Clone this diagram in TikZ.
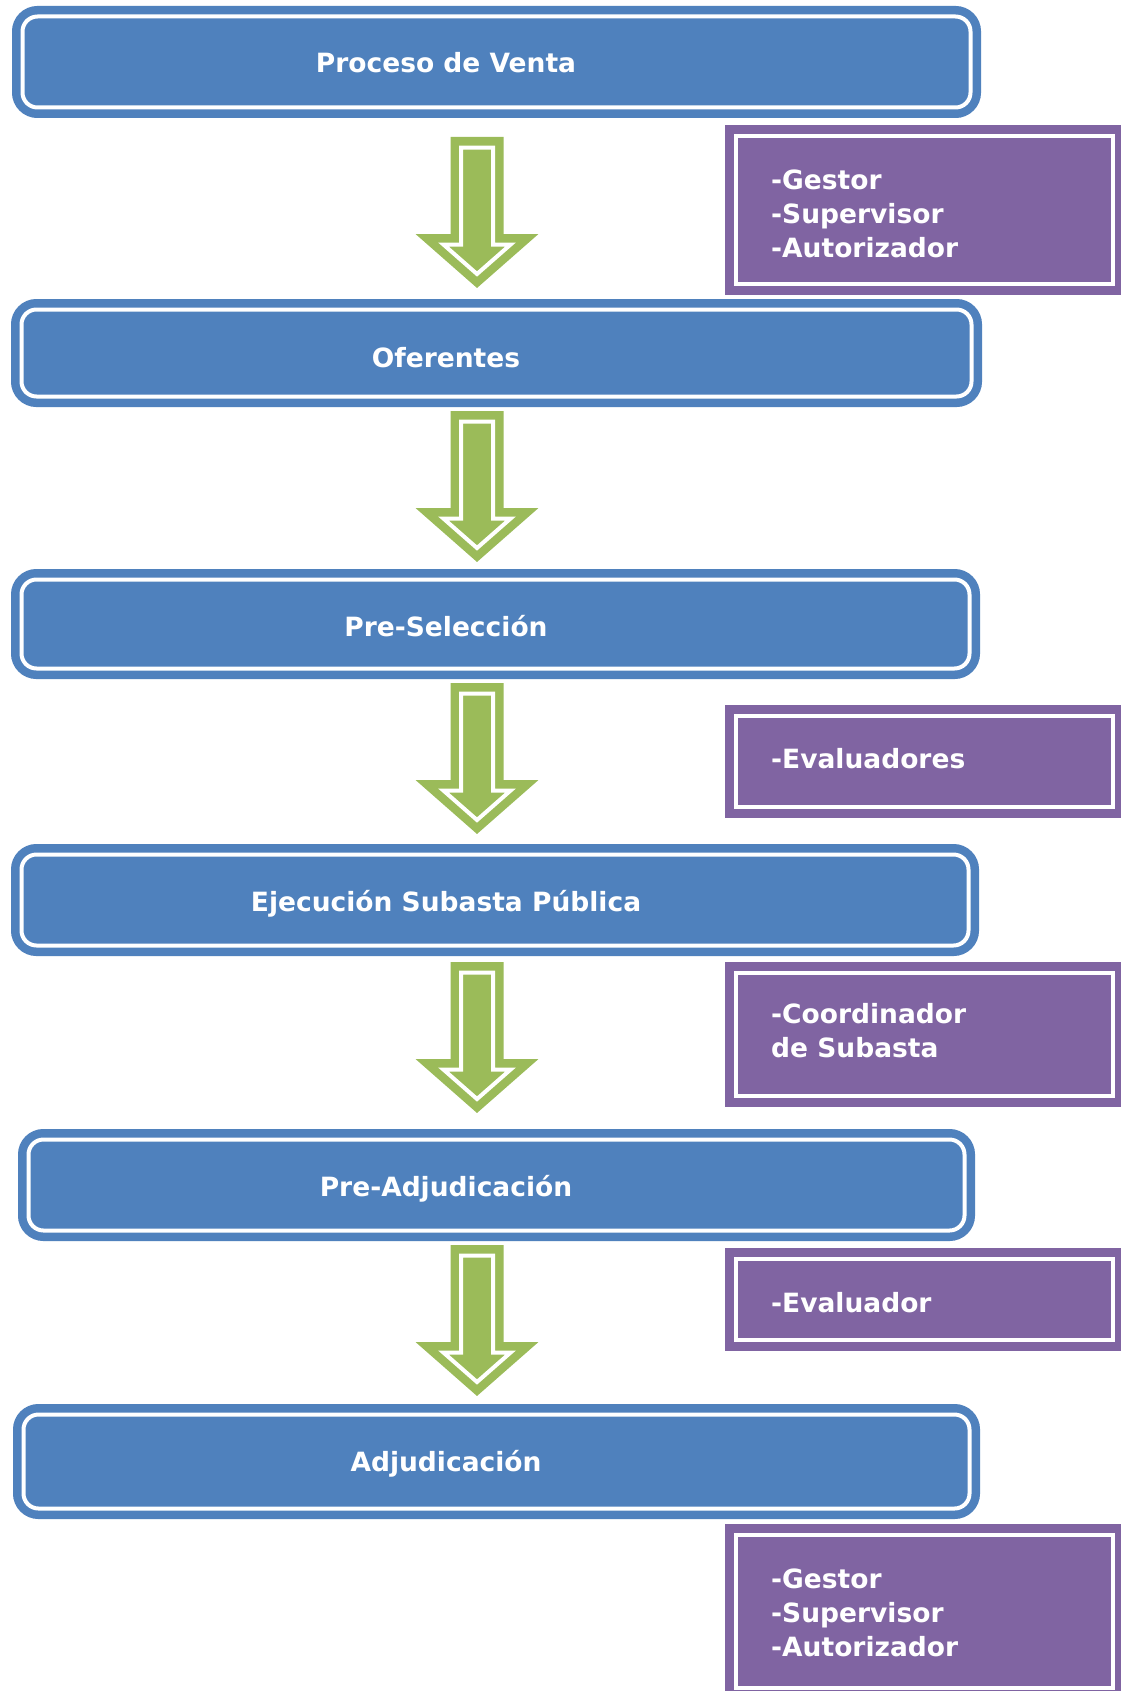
\documentclass[tikz,border=0pt]{standalone}
\usepackage{fontspec}
\setmainfont{DejaVu Sans}
\usetikzlibrary{calc}
\definecolor{boxblue}{HTML}{4F81BD}
\definecolor{rolepurple}{HTML}{8064A2}
\definecolor{arrowgreen}{HTML}{9BBB59}
\tikzset{
  stagebox/.style={rectangle, draw=boxblue, fill=boxblue, line width=8.5pt, double=white, double distance=4pt, rounded corners=15pt, inner sep=0pt, outer sep=0pt},
  rolebox/.style={rectangle, draw=rolepurple, fill=rolepurple, line width=9pt, double=white, double distance=4pt, inner sep=0pt, outer sep=0pt},
  stagetext/.style={text=white, font=\fontsize{26.5}{31}\selectfont\bfseries, anchor=base, inner sep=0pt},
  roletext/.style={text=white, font=\fontsize{26.5}{34}\selectfont\bfseries, anchor=base west, align=left, inner sep=0pt},
  flowarrow/.style={draw=arrowgreen, fill=arrowgreen, line width=8.5pt, double=white, double distance=4pt, line join=miter},
}
\begin{document}
\begin{tikzpicture}[x=1pt,y=-1pt]
\path[use as bounding box, fill=white] (0,0) rectangle (1120,1691);
\coordinate (ax) at (477,0);

% stage boxes
\node[stagebox, minimum width=948pt, minimum height=91pt] (b1) at (496.5,62) {};
\node[stagebox, minimum width=950pt, minimum height=87pt] (b2) at (496.5,353) {};
\node[stagebox, minimum width=948pt, minimum height=89pt] (b3) at (495.5,624) {};
\node[stagebox, minimum width=947pt, minimum height=91pt] (b4) at (495,900) {};
\node[stagebox, minimum width=936pt, minimum height=91pt] (b5) at (496.5,1185) {};
\node[stagebox, minimum width=946pt, minimum height=94pt] (b6) at (496.5,1461.5) {};

\node[stagetext] (t1) at (446,73) {Proceso de Venta};
\node[stagetext] (t2) at (446,367) {Oferentes};
\node[stagetext] (t3) at (446,636) {Pre-Selección};
\node[stagetext] (t4) at (446,911) {Ejecución Subasta Pública};
\node[stagetext] (t5) at (446,1196) {Pre-Adjudicación};
\node[stagetext] (t6) at (446,1471) {Adjudicación};

% role boxes
\node[rolebox, minimum width=377pt, minimum height=148pt] (p1) at (924.5,210) {};
\node[rolebox, minimum width=377pt, minimum height=91pt] (p2) at (924.5,761.5) {};
\node[rolebox, minimum width=377pt, minimum height=123pt] (p3) at (924.5,1034.5) {};
\node[rolebox, minimum width=377pt, minimum height=81pt] (p4) at (924.5,1299.5) {};
\node[rolebox, minimum width=377pt, minimum height=153pt] (p5) at (924.5,1611.5) {};

% multi-line nodes: base anchor is the baseline of the last line
\node[roletext] (r1) at (771,257) {-Gestor\\-Supervisor\\-Autorizador};
\node[roletext] (r2) at (771,768) {-Evaluadores};
\node[roletext] (r3) at (771,1057) {-Coordinador\\de Subasta};
\node[roletext] (r4) at (771,1312) {-Evaluador};
\node[roletext] (r5) at (771,1656) {-Gestor\\-Supervisor\\-Autorizador};

% block arrows
\draw[flowarrow] ($(b1.south -| ax)+(-16,40)$) -- ++(32,0) -- ++(0,97) -- ++(17.6,0) -- ++(-33.6,29.5) -- ++(-33.6,-29.5) -- ++(17.6,0) -- cycle;
\draw[flowarrow] ($(b2.south -| ax)+(-16,25)$) -- ++(32,0) -- ++(0,97) -- ++(17.6,0) -- ++(-33.6,29.5) -- ++(-33.6,-29.5) -- ++(17.6,0) -- cycle;
\draw[flowarrow] ($(b3.south -| ax)+(-16,25)$) -- ++(32,0) -- ++(0,97) -- ++(17.6,0) -- ++(-33.6,29.5) -- ++(-33.6,-29.5) -- ++(17.6,0) -- cycle;
\draw[flowarrow] ($(b4.south -| ax)+(-16,27)$) -- ++(32,0) -- ++(0,97) -- ++(17.6,0) -- ++(-33.6,29.5) -- ++(-33.6,-29.5) -- ++(17.6,0) -- cycle;
\draw[flowarrow] ($(b5.south -| ax)+(-16,25)$) -- ++(32,0) -- ++(0,97) -- ++(17.6,0) -- ++(-33.6,29.5) -- ++(-33.6,-29.5) -- ++(17.6,0) -- cycle;
\end{tikzpicture}
\end{document}
